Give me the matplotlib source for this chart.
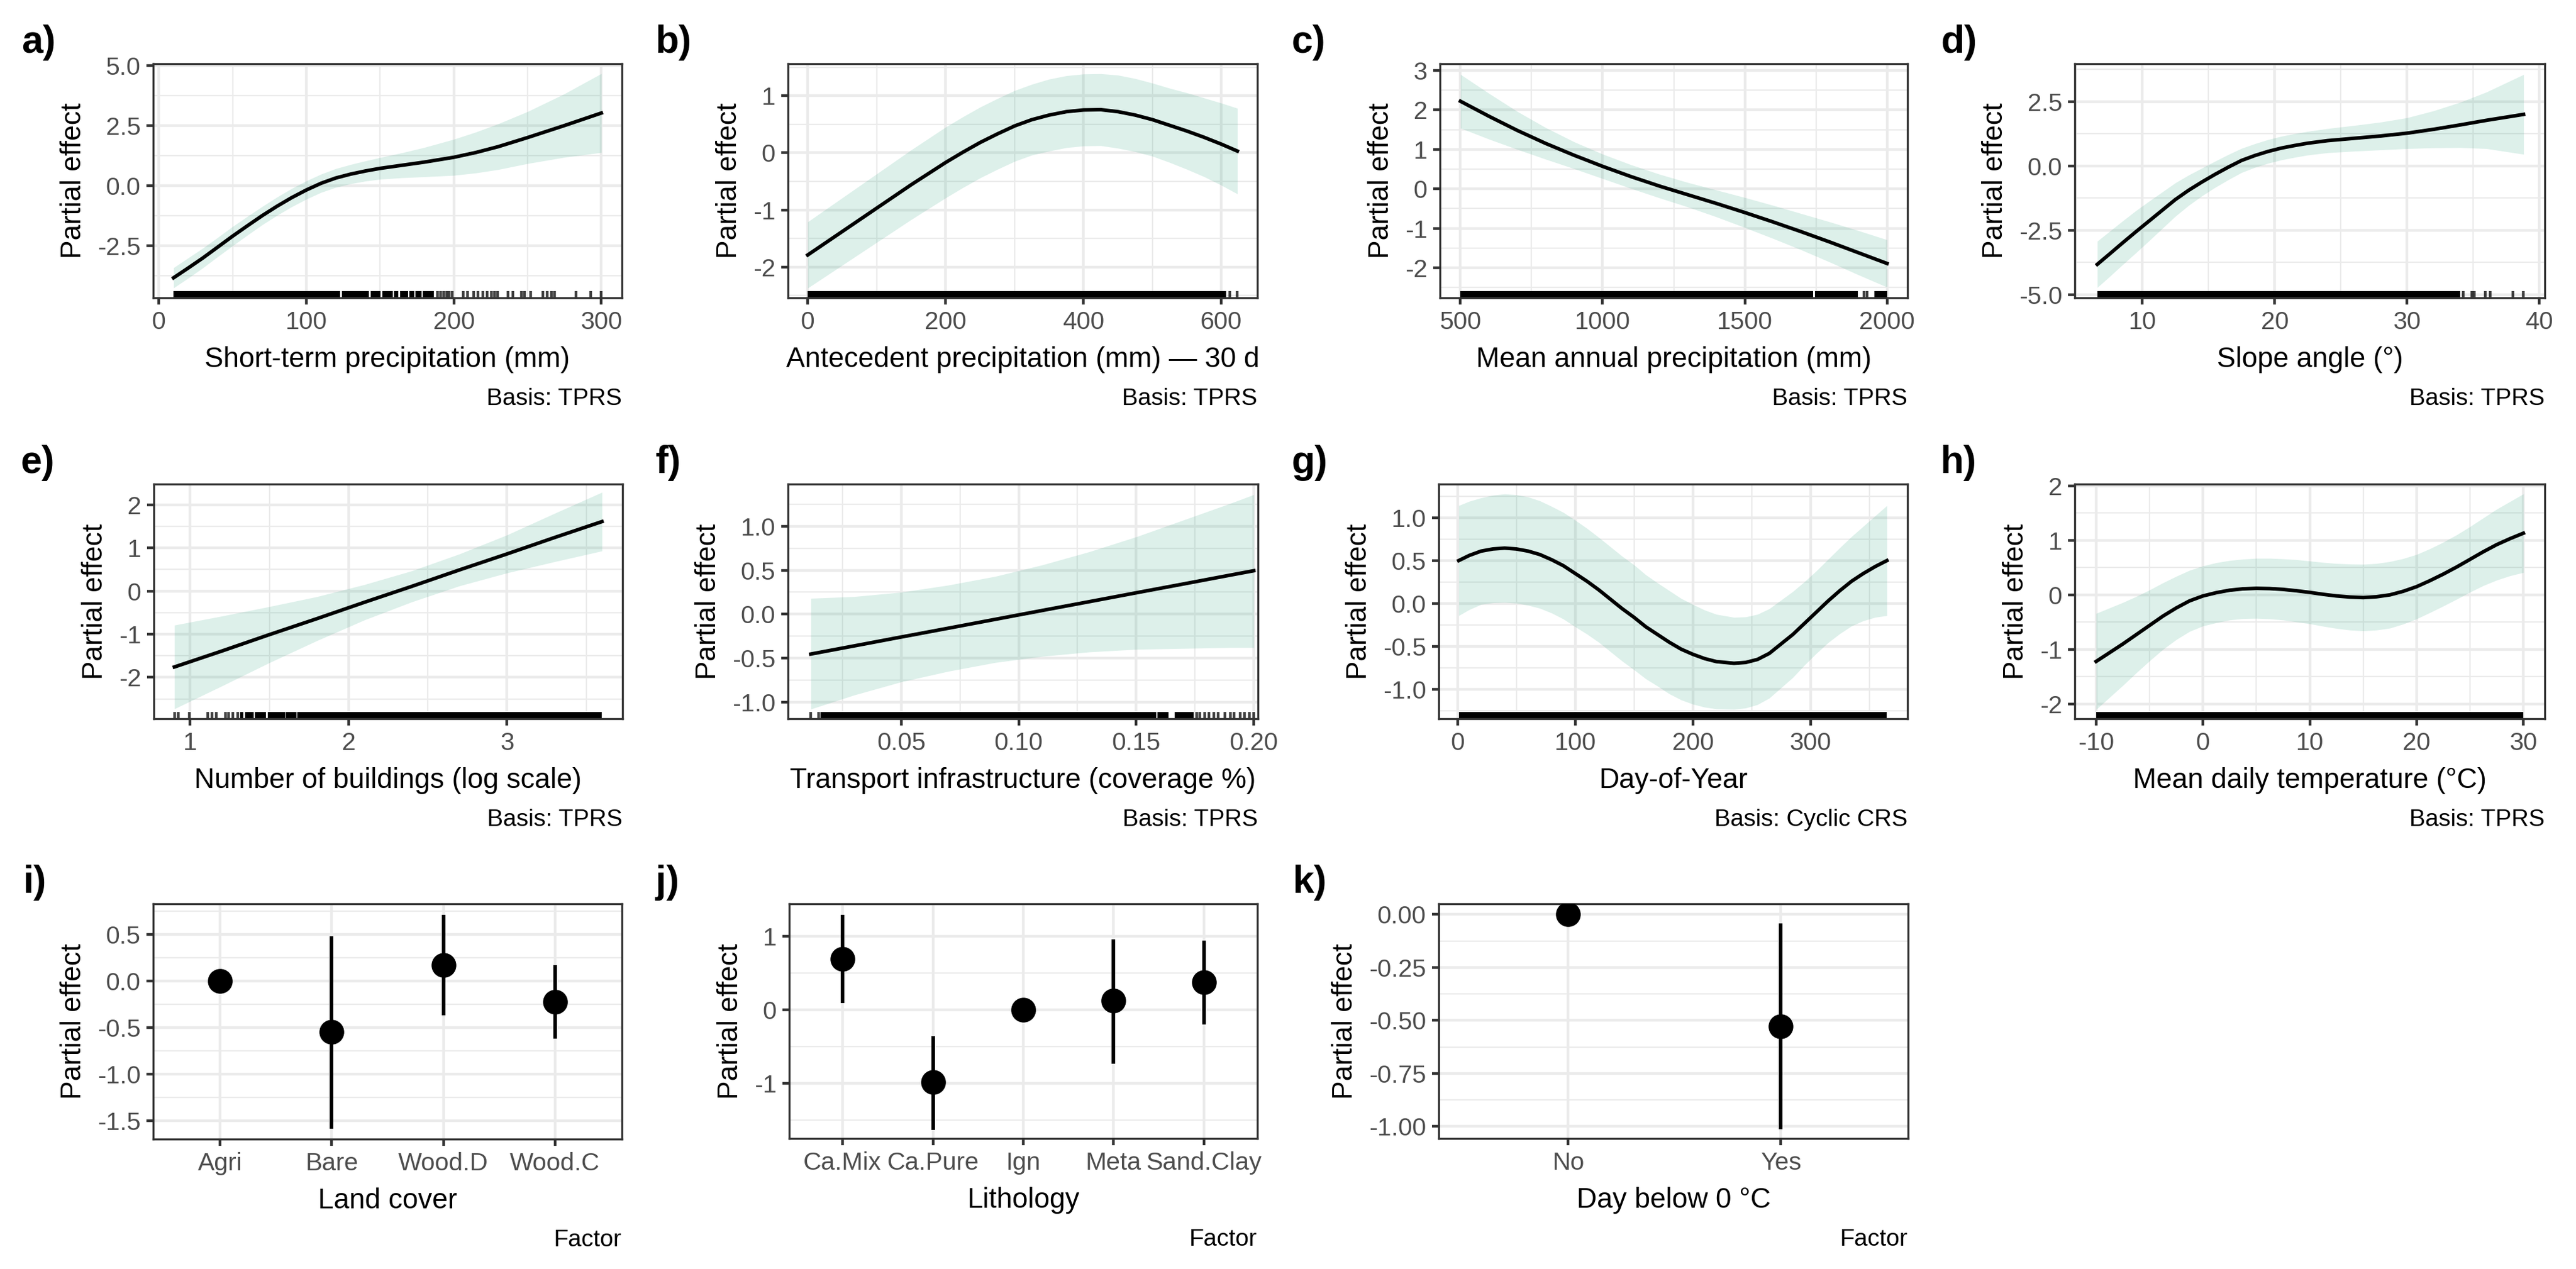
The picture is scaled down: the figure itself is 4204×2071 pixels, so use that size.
import numpy as np
import matplotlib
matplotlib.use('Agg')
import matplotlib.pyplot as plt
from matplotlib.ticker import MultipleLocator, FixedLocator, FixedFormatter

plt.rcParams['font.family'] = ['Liberation Sans', 'DejaVu Sans']
plt.rcParams['axes.unicode_minus'] = False

# ---- smooth terms: x, fit, lower, upper, rug ----
a_x = [10, 20, 30, 40, 50, 60, 70, 80, 90, 100, 110, 120, 130, 140, 150, 165, 180,
       200, 215, 230, 250, 275, 300]
a_fit = [-3.83, -3.42, -3.0, -2.55, -2.1, -1.67, -1.25, -0.86, -0.5, -0.18, 0.1, 0.32,
         0.48, 0.61, 0.72, 0.85, 0.98, 1.18, 1.38, 1.62, 2.0, 2.5, 3.02]
a_lo = [-4.25, -3.84, -3.41, -2.95, -2.50, -2.06, -1.63, -1.24, -0.88, -0.56, -0.28,
        -0.07, 0.08, 0.19, 0.27, 0.33, 0.37, 0.43, 0.53, 0.67, 0.92, 1.18, 1.38]
a_hi = [-3.41, -3.00, -2.59, -2.15, -1.70, -1.28, -0.87, -0.48, -0.12, 0.20, 0.48, 0.71,
        0.88, 1.03, 1.17, 1.37, 1.59, 1.93, 2.23, 2.57, 3.08, 3.82, 4.66]
a_rug = [188.9, 190.9, 193.0, 195.0, 197.0, 199.1, 206.2, 209.3, 213.4, 216.4, 219.5,
         222.6, 225.6, 227.7, 229.7, 236.8, 239.9, 246.0, 248.0, 252.1, 260.3, 263.4,
         266.4, 268.5, 282.7, 293.0, 300.0]
a_dense = [(10, 123), (124, 142.5), (143.5, 150.5), (151.5, 158.5), (159.5, 162.5),
           (163.5, 169), (170, 173), (174, 178), (179, 186.5)]

b_x = [0, 50, 100, 150, 200, 225, 250, 275, 300, 325, 350, 375, 400, 425, 450, 475,
       500, 525, 550, 575, 600, 623]
b_fit = [-1.79, -1.38, -0.97, -0.56, -0.17, 0.01, 0.18, 0.33, 0.47, 0.58, 0.66, 0.72,
         0.75, 0.755, 0.72, 0.66, 0.58, 0.48, 0.38, 0.27, 0.15, 0.03]
b_lo = [-2.37, -1.97, -1.57, -1.17, -0.79, -0.61, -0.44, -0.29, -0.15, -0.04, 0.03, 0.09,
        0.12, 0.125, 0.08, 0.02, -0.06, -0.17, -0.29, -0.42, -0.57, -0.72]
b_hi = [-1.21, -0.79, -0.37, 0.05, 0.45, 0.63, 0.80, 0.95, 1.09, 1.20, 1.29, 1.35,
        1.38, 1.385, 1.36, 1.30, 1.22, 1.13, 1.05, 0.96, 0.87, 0.78]
b_rug = [612, 623]
b_dense = [(0, 607)]

c_x = [500, 600, 700, 800, 900, 1000, 1100, 1200, 1300, 1400, 1500, 1600, 1700, 1800, 1900, 2000]
c_fit = [2.22, 1.84, 1.48, 1.15, 0.85, 0.57, 0.31, 0.07, -0.15, -0.37, -0.60, -0.84, -1.09, -1.35, -1.62, -1.89]
c_lo = [1.54, 1.26, 1.00, 0.75, 0.51, 0.26, 0.01, -0.23, -0.46, -0.71, -0.98, -1.26, -1.55, -1.86, -2.18, -2.49]
c_hi = [2.90, 2.42, 1.96, 1.55, 1.19, 0.88, 0.61, 0.37, 0.16, -0.03, -0.22, -0.42, -0.63, -0.84, -1.06, -1.29]
c_rug = [1918, 1929]
c_dense = [(500, 1740), (1746, 1898), (1955, 2000)]

d_x = [6.6, 7.5, 8.5, 9.5, 10.5, 11.5, 12.5, 13.5, 14.5, 15.5, 16.5, 17.5, 18.5, 19.5,
       20.5, 21.5, 22.5, 24, 26, 28, 30, 32, 34, 36, 38.8]
d_fit = [-3.83, -3.44, -3.0, -2.57, -2.15, -1.73, -1.31, -0.95, -0.63, -0.33, -0.05, 0.21,
         0.40, 0.56, 0.69, 0.79, 0.88, 0.98, 1.07, 1.16, 1.27, 1.42, 1.59, 1.77, 2.0]
d_lo = [-4.73, -4.32, -3.85, -3.39, -2.92, -2.44, -1.96, -1.54, -1.17, -0.84, -0.54, -0.26,
        -0.06, 0.10, 0.23, 0.33, 0.42, 0.51, 0.57, 0.62, 0.67, 0.70, 0.71, 0.67, 0.45]
d_hi = [-2.93, -2.56, -2.15, -1.75, -1.38, -1.02, -0.66, -0.36, -0.09, 0.18, 0.44, 0.68,
        0.86, 1.02, 1.15, 1.25, 1.34, 1.45, 1.57, 1.70, 1.87, 2.14, 2.47, 2.87, 3.55]
d_rug = [34.26, 34.9, 35.06, 35.9, 36.3, 38.0, 38.8]
d_dense = [(6.6, 34.0)]

e_x = [0.9, 1.2, 1.5, 1.8, 2.1, 2.4, 2.7, 3.0, 3.3, 3.6]
e_fit = [-1.76, -1.39, -1.01, -0.64, -0.26, 0.11, 0.49, 0.86, 1.24, 1.61]
e_lo = [-2.73, -2.20, -1.66, -1.15, -0.67, -0.25, 0.12, 0.42, 0.68, 0.93]
e_hi = [-0.79, -0.58, -0.36, -0.13, 0.15, 0.47, 0.86, 1.30, 1.80, 2.29]
e_rug = [0.90, 0.924, 0.996, 1.110, 1.138, 1.163, 1.224, 1.243, 1.27, 1.30]
e_dense = [(1.315, 1.335), (1.345, 1.40), (1.41, 1.48), (1.49, 1.60), (1.605, 1.67), (1.675, 3.60)]

f_x = [0.0115, 0.03, 0.05, 0.07, 0.09, 0.11, 0.13, 0.15, 0.17, 0.19, 0.20]
f_fit = [-0.454, -0.361, -0.260, -0.160, -0.059, 0.042, 0.142, 0.243, 0.343, 0.444, 0.494]
f_lo = [-1.08, -0.92, -0.77, -0.65, -0.55, -0.48, -0.43, -0.40, -0.39, -0.38, -0.38]
f_hi = [0.18, 0.20, 0.25, 0.33, 0.43, 0.56, 0.71, 0.88, 1.07, 1.26, 1.36]
f_rug = [0.0115, 0.0148, 0.1756, 0.1770, 0.1790, 0.1809, 0.1830, 0.1849, 0.1876,
         0.1900, 0.1916, 0.1942, 0.1960, 0.1982, 0.2000]
f_dense = [(0.0155, 0.1584), (0.1590, 0.1637), (0.1664, 0.1743)]

g_x = [1, 10, 20, 30, 40, 50, 60, 70, 80, 90, 100, 110, 120, 130, 140, 150, 160, 170,
       180, 190, 200, 210, 220, 235, 245, 255, 265, 275, 285, 295, 305, 315, 325, 335,
       345, 355, 365]
g_fit = [0.50, 0.56, 0.61, 0.635, 0.645, 0.635, 0.61, 0.57, 0.51, 0.44, 0.35, 0.26, 0.16,
         0.05, -0.06, -0.16, -0.27, -0.36, -0.45, -0.53, -0.59, -0.64, -0.675, -0.695,
         -0.685, -0.65, -0.58, -0.47, -0.36, -0.23, -0.10, 0.03, 0.15, 0.26, 0.35, 0.43, 0.50]
g_lo = [-0.14, -0.07, -0.01, 0.01, 0.015, 0.005, -0.02, -0.055, -0.11, -0.18, -0.27,
        -0.355, -0.45, -0.56, -0.67, -0.77, -0.875, -0.96, -1.05, -1.12, -1.17, -1.205,
        -1.225, -1.23, -1.215, -1.175, -1.10, -0.98, -0.86, -0.715, -0.58, -0.455, -0.35,
        -0.26, -0.20, -0.16, -0.14]
g_hi = [1.14, 1.19, 1.23, 1.26, 1.275, 1.265, 1.24, 1.195, 1.13, 1.06, 0.97, 0.875, 0.77,
        0.66, 0.55, 0.45, 0.335, 0.24, 0.15, 0.06, -0.01, -0.075, -0.125, -0.16, -0.155,
        -0.125, -0.06, 0.04, 0.14, 0.255, 0.38, 0.515, 0.65, 0.78, 0.90, 1.02, 1.14]
g_rug = []
g_dense = [(1, 365)]

h_x = [-10, -8.75, -7.5, -6.25, -5, -3.75, -2.5, -1.25, 0, 1.25, 2.5, 3.75, 5, 6.25,
       7.5, 8.75, 10, 11.25, 12.5, 13.75, 15, 16.25, 17.5, 18.75, 20, 21.25, 22.5,
       23.75, 25, 26.25, 27.5, 28.75, 30]
h_fit = [-1.22, -1.06, -0.90, -0.73, -0.56, -0.39, -0.24, -0.11, -0.02, 0.04, 0.085,
         0.11, 0.12, 0.115, 0.10, 0.075, 0.045, 0.01, -0.02, -0.04, -0.05, -0.035, 0.0,
         0.065, 0.15, 0.26, 0.38, 0.51, 0.65, 0.79, 0.92, 1.03, 1.13]
h_lo = [-2.10, -1.88, -1.66, -1.43, -1.21, -1.00, -0.82, -0.67, -0.57, -0.51, -0.46,
        -0.435, -0.43, -0.44, -0.46, -0.495, -0.53, -0.575, -0.615, -0.645, -0.66,
        -0.645, -0.61, -0.535, -0.44, -0.325, -0.205, -0.08, 0.05, 0.17, 0.27, 0.35, 0.41]
h_hi = [-0.34, -0.24, -0.14, -0.03, 0.09, 0.22, 0.34, 0.45, 0.53, 0.59, 0.63, 0.655,
        0.67, 0.67, 0.66, 0.645, 0.62, 0.595, 0.575, 0.565, 0.56, 0.575, 0.61, 0.665,
        0.74, 0.845, 0.965, 1.10, 1.25, 1.41, 1.57, 1.71, 1.85]
h_rug = []
h_dense = [(-10, 30)]

# ---- parametric (factor) terms ----
i_cats = ['Agri', 'Bare', 'Wood.D', 'Wood.C']
i_est = [0.0, -0.55, 0.17, -0.226]
i_lo = [np.nan, -1.59, -0.37, -0.62]
i_hi = [np.nan, 0.48, 0.71, 0.174]

j_cats = ['Ca.Mix', 'Ca.Pure', 'Ign', 'Meta', 'Sand.Clay']
j_est = [0.69, -0.98, 0.0, 0.12, 0.37]
j_lo = [0.09, -1.63, np.nan, -0.73, -0.20]
j_hi = [1.29, -0.36, np.nan, 0.96, 0.94]

k_cats = ['No', 'Yes']
k_est = [0.0, -0.527]
k_lo = [np.nan, -1.013]
k_hi = [np.nan, -0.042]

W, H = 4204, 2071
fig = plt.figure(figsize=(W / 300, H / 300), dpi=300)
fig.patch.set_facecolor('white')

TXT = '#4D4D4D'
DARK = '#333333'
GRID = '#EBEBEB'


def panel(l, t, r, b):
    return fig.add_axes([l / W, 1 - b / H, (r - l) / W, (b - t) / H])


def style(ax, xticks, yticks, xfmt, yfmt, xminor, yminor, xlim, ylim):
    ax.set_xlim(*xlim)
    ax.set_ylim(*ylim)
    ax.xaxis.set_major_locator(FixedLocator(xticks))
    if isinstance(xfmt, list):
        ax.xaxis.set_major_formatter(FixedFormatter(xfmt))
    else:
        ax.xaxis.set_major_formatter(FixedFormatter([xfmt % v for v in xticks]))
    ax.yaxis.set_major_locator(FixedLocator(yticks))
    ax.yaxis.set_major_formatter(FixedFormatter([yfmt % v for v in yticks]))
    if xminor:
        ax.xaxis.set_minor_locator(MultipleLocator(xminor))
    ax.yaxis.set_minor_locator(MultipleLocator(yminor))
    ax.set_axisbelow(True)
    ax.grid(which='major', color=GRID, lw=1.07)
    ax.grid(which='minor', color=GRID, lw=0.53)
    if not xminor:
        ax.grid(which='minor', axis='x', visible=False)
    ax.tick_params(which='major', length=2.75, width=1.07, color=DARK,
                   labelsize=9.8, labelcolor=TXT, pad=2.2)
    ax.tick_params(which='minor', length=0)
    for s in ax.spines.values():
        s.set_color(DARK)
        s.set_linewidth(0.8)
    ax.set_ylabel('Partial effect', fontsize=11, labelpad=4)


def labels(ax, tag, tagx, xlabel, caption, box):
    l, t, r, b = box
    ax.set_xlabel(xlabel, fontsize=11, labelpad=5)
    fig.text(r / W, 1 - (b + 175) / H, caption, ha='right', va='baseline', fontsize=9.4)
    fig.text(tagx / W, 1 - (t - 18) / H, tag, ha='left', va='baseline',
             fontsize=15, fontweight='bold')


def smooth(ax, x, fit, lo, hi, rug, dense):
    ax.fill_between(x, lo, hi, color='#1B9E77', alpha=0.15, lw=0, zorder=1.5)
    ax.plot(x, fit, color='black', lw=1.4, zorder=3, solid_joinstyle='round')
    tr = ax.get_xaxis_transform()
    for x0, x1 in dense:
        ax.axvspan(x0, x1, ymin=0, ymax=0.028, color='black', lw=0, zorder=2)
    if rug:
        ax.vlines(rug, 0, 0.028, transform=tr, colors='black', lw=1.07, alpha=0.75, zorder=2)


def factor(ax, cats, est, lo, hi):
    pos = np.arange(1, len(cats) + 1)
    ax.vlines(pos, lo, hi, colors='black', lw=1.4, zorder=3)
    ax.plot(pos, est, 'o', color='black', ms=8.7, zorder=4)


smooth_specs = [
    ('a)', 35, (250, 104, 1015, 486), a_x, a_fit, a_lo, a_hi, a_rug, a_dense,
     [0, 100, 200, 300], [-2.5, 0.0, 2.5, 5.0], '%d', '%.1f', 50, 1.25,
     (-3.8, 314), (-4.66, 5.07), 'Short-term precipitation (mm)', 'Basis: TPRS'),
    ('b)', 1070, (1286, 104, 2052, 486), b_x, b_fit, b_lo, b_hi, b_rug, b_dense,
     [0, 200, 400, 600], [-2, -1, 0, 1], '%d', '%d', 100, 0.5,
     (-28.6, 652), (-2.54, 1.56), 'Antecedent precipitation (mm) — 30 d', 'Basis: TPRS'),
    ('c)', 2107, (2350, 104, 3113, 486), c_x, c_fit, c_lo, c_hi, c_rug, c_dense,
     [500, 1000, 1500, 2000], [-2, -1, 0, 1, 2, 3], '%d', '%d', 250, 0.5,
     (428, 2072), (-2.76, 3.17), 'Mean annual precipitation (mm)', 'Basis: TPRS'),
    ('d)', 3167, (3386, 104, 4153, 486), d_x, d_fit, d_lo, d_hi, d_rug, d_dense,
     [10, 20, 30, 40], [-5.0, -2.5, 0.0, 2.5], '%d', '%.1f', 5, 1.25,
     (4.9, 40.4), (-5.13, 3.97), 'Slope angle (°)', 'Basis: TPRS'),
    ('e)', 34, (251, 790, 1016, 1173), e_x, e_fit, e_lo, e_hi, e_rug, e_dense,
     [1, 2, 3], [-2, -1, 0, 1, 2], '%d', '%d', 0.5, 0.5,
     (0.77, 3.73), (-2.96, 2.48), 'Number of buildings (log scale)', 'Basis: TPRS'),
    ('f)', 1070, (1286, 790, 2053, 1173), f_x, f_fit, f_lo, f_hi, f_rug, f_dense,
     [0.05, 0.10, 0.15, 0.20], [-1.0, -0.5, 0.0, 0.5, 1.0], '%.2f', '%.1f', 0.025, 0.25,
     (0.0018, 0.2018), (-1.19, 1.48), 'Transport infrastructure (coverage %)', 'Basis: TPRS'),
    ('g)', 2107, (2348, 790, 3113, 1173), g_x, g_fit, g_lo, g_hi, g_rug, g_dense,
     [0, 100, 200, 300], [-1.0, -0.5, 0.0, 0.5, 1.0], '%d', '%.1f', 50, 0.25,
     (-16, 382.5), (-1.34, 1.39), 'Day-of-Year', 'Basis: Cyclic CRS'),
    ('h)', 3167, (3386, 790, 4153, 1173), h_x, h_fit, h_lo, h_hi, h_rug, h_dense,
     [-10, 0, 10, 20, 30], [-2, -1, 0, 1, 2], '%d', '%d', 5, 0.5,
     (-12, 32), (-2.27, 2.03), 'Mean daily temperature (°C)', 'Basis: TPRS'),
]

for (tag, tagx, box, x, fit, lo, hi, rug, dense, xt, yt, xf, yf, xm, ym,
     xlim, ylim, xlabel, cap) in smooth_specs:
    ax = panel(*box)
    style(ax, xt, yt, xf, yf, xm, ym, xlim, ylim)
    smooth(ax, x, fit, lo, hi, rug, dense)
    labels(ax, tag, tagx, xlabel, cap, box)

factor_specs = [
    ('i)', 38, (250, 1475, 1015, 1859), i_cats, i_est, i_lo, i_hi,
     [-1.5, -1.0, -0.5, 0.0, 0.5], '%.1f', 0.25, (0.4, 4.6), (-1.70, 0.83), 'Land cover'),
    ('j)', 1070, (1288, 1475, 2052, 1858), j_cats, j_est, j_lo, j_hi,
     [-1, 0, 1], '%d', 0.5, (0.41, 5.59), (-1.75, 1.44), 'Lithology'),
    ('k)', 2110, (2348, 1475, 3114, 1858), k_cats, k_est, k_lo, k_hi,
     [-1.00, -0.75, -0.50, -0.25, 0.00], '%.2f', 0.125, (0.39, 2.6), (-1.057, 0.05), 'Day below 0 °C'),
]

for (tag, tagx, box, cats, est, lo, hi, yt, yf, ym, xlim, ylim, xlabel) in factor_specs:
    ax = panel(*box)
    style(ax, list(range(1, len(cats) + 1)), yt, cats, yf, None, ym, xlim, ylim)
    factor(ax, cats, est, lo, hi)
    labels(ax, tag, tagx, xlabel, 'Factor', box)

fig.savefig('out.png', dpi=300, facecolor='white')
